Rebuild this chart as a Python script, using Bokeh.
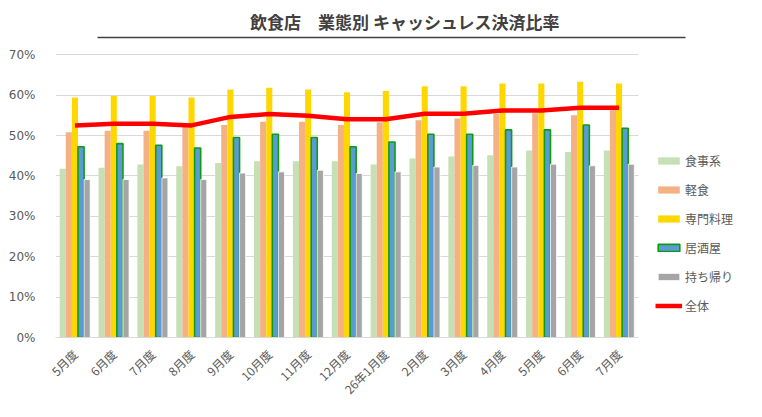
import math
from bokeh.plotting import figure
from bokeh.models import (Range1d, Legend, LegendItem, PrintfTickFormatter, FixedTicker,
                          ColumnDataSource, LinearAxis, CustomJSTickFormatter)
from bokeh.transform import dodge
from bokeh.embed import file_html
from bokeh.resources import INLINE

title_text = "飲食店　業態別 キャッシュレス決済比率"
months = ["5月度", "6月度", "7月度", "8月度", "9月度", "10月度", "11月度", "12月度",
          "26年1月度", "2月度", "3月度", "4月度", "5月度", "6月度", "7月度"]
series_names = ["食事系", "軽食", "専門料理", "居酒屋", "持ち帰り", "全体"]
shokuji = [41.8, 42.0, 42.8, 42.4, 43.2, 43.6, 43.6, 43.6, 42.8, 44.3, 44.8, 45.1, 46.3, 45.9, 46.3]
keishoku = [50.8, 51.2, 51.2, 52.2, 52.6, 53.4, 53.4, 52.6, 53.3, 53.8, 54.2, 55.3, 55.5, 55.0, 56.4]
senmon = [59.4, 59.8, 59.8, 59.4, 61.4, 61.8, 61.4, 60.7, 61.0, 62.2, 62.2, 62.9, 62.9, 63.3, 62.9]
izakaya = [47.2, 48.0, 47.6, 46.9, 49.5, 50.3, 49.5, 47.2, 48.4, 50.3, 50.3, 51.4, 51.4, 52.6, 51.8]
mochikaeri = [39.1, 39.1, 39.5, 39.1, 40.7, 41.0, 41.4, 40.6, 41.0, 42.2, 42.6, 42.2, 42.9, 42.5, 42.9]
zentai = [52.5, 52.9, 52.9, 52.5, 54.6, 55.3, 54.9, 54.0, 54.0, 55.4, 55.4, 56.2, 56.2, 56.9, 56.9]
y_ticks = [0, 10, 20, 30, 40, 50, 60, 70]

JP = "Noto Sans CJK JP"
pos = list(range(1, len(months) + 1))
src = ColumnDataSource(dict(pos=pos, s1=shokuji, s2=keishoku, s3=senmon,
                            s4=izakaya, s5=mochikaeri, tot=zentai))

# frame: page x 55..754 (categories occupy 55..638, legend lives in the rest)
cat_px = 583 / len(months)
x_end = 0.5 + 699 / cat_px
p = figure(x_range=Range1d(0.5, x_end), y_range=Range1d(0, 74.26),
           width=762, height=417, output_backend="svg", toolbar_location=None,
           min_border_left=55, min_border_right=8, min_border_top=37, min_border_bottom=80)
p.outline_line_color = None

p.title.text = title_text
p.title.align = "center"
p.title.offset = -62
p.title.text_font = JP
p.title.text_font_size = "17px"
p.title.text_font_style = "bold"
p.title.text_color = "#404040"
p.title.standoff = 8

# rule under the title: line of an unlabeled top axis
ul_left = 0.5 + 42 / cat_px
ul_right = 0.5 + 630 / cat_px
top_axis = LinearAxis(ticker=FixedTicker(ticks=[]), bounds=(ul_left, ul_right),
                      axis_line_color="#404040", axis_line_width=1.5,
                      major_tick_line_color=None, minor_tick_line_color=None,
                      major_label_text_font_size="0px", major_label_standoff=0)
p.add_layout(top_axis, "above")

bw = 0.157
cols = ["s1", "s2", "s3", "s4", "s5"]
fills = ["#c5e0b4", "#f4b183", "#ffd700", "#5b9bd5", "#a5a5a5"]
lines = [None, None, None, "#109a10", "white"]
lws = [0, 0, 0, 1.6, 0.8]
offs = [-2 * bw, -bw, 0, bw, 2 * bw]
renderers = []
for c, f, lc, lw, o in zip(cols, fills, lines, lws, offs):
    r = p.vbar(x=dodge("pos", o), top=c, width=bw, source=src,
               fill_color=f, line_color=lc, line_width=lw)
    renderers.append(r)
rl = p.line(x="pos", y="tot", source=src, line_color="#ff0000", line_width=4.5)
renderers.append(rl)

legend = Legend(items=[LegendItem(label=n, renderers=[r]) for n, r in zip(series_names, renderers)],
                location=(600, 23), glyph_width=27, glyph_height=9, label_height=14,
                spacing=12, padding=5, margin=0, label_standoff=3, border_line_color=None,
                background_fill_color="white", background_fill_alpha=1,
                label_text_font=JP, label_text_font_size="12px", label_text_color="#595959")
p.add_layout(legend)

p.xgrid.grid_line_color = None
p.ygrid.grid_line_color = "#d9d9d9"
yg = p.ygrid[0]
if "cross_bounds" in yg.properties():
    yg.cross_bounds = (0.5, len(months) + 0.5)

p.yaxis.ticker = FixedTicker(ticks=y_ticks)
p.yaxis.formatter = PrintfTickFormatter(format="%d%%")
p.yaxis.axis_line_color = None
p.yaxis.major_tick_line_color = None
p.yaxis.minor_tick_line_color = None
p.yaxis.major_label_text_font = "DejaVu Sans"
p.yaxis.major_label_text_font_size = "12px"
p.yaxis.major_label_text_color = "#595959"
p.yaxis.major_label_standoff = 14

xa = p.below[0]
xa.ticker = FixedTicker(ticks=pos)
xa.formatter = CustomJSTickFormatter(args=dict(labels=months),
                                     code="return labels[Math.round(tick) - 1] || '';")
xa.bounds = (0.5, len(months) + 0.5)
xa.axis_line_color = "#d9d9d9"
xa.major_tick_line_color = None
xa.minor_tick_line_color = None
xa.major_label_orientation = math.pi / 4
xa.major_label_text_font = JP
xa.major_label_text_font_size = "12px"
xa.major_label_text_color = "#595959"
xa.major_label_standoff = 8

open("out.html", "w").write(file_html(p, INLINE))
